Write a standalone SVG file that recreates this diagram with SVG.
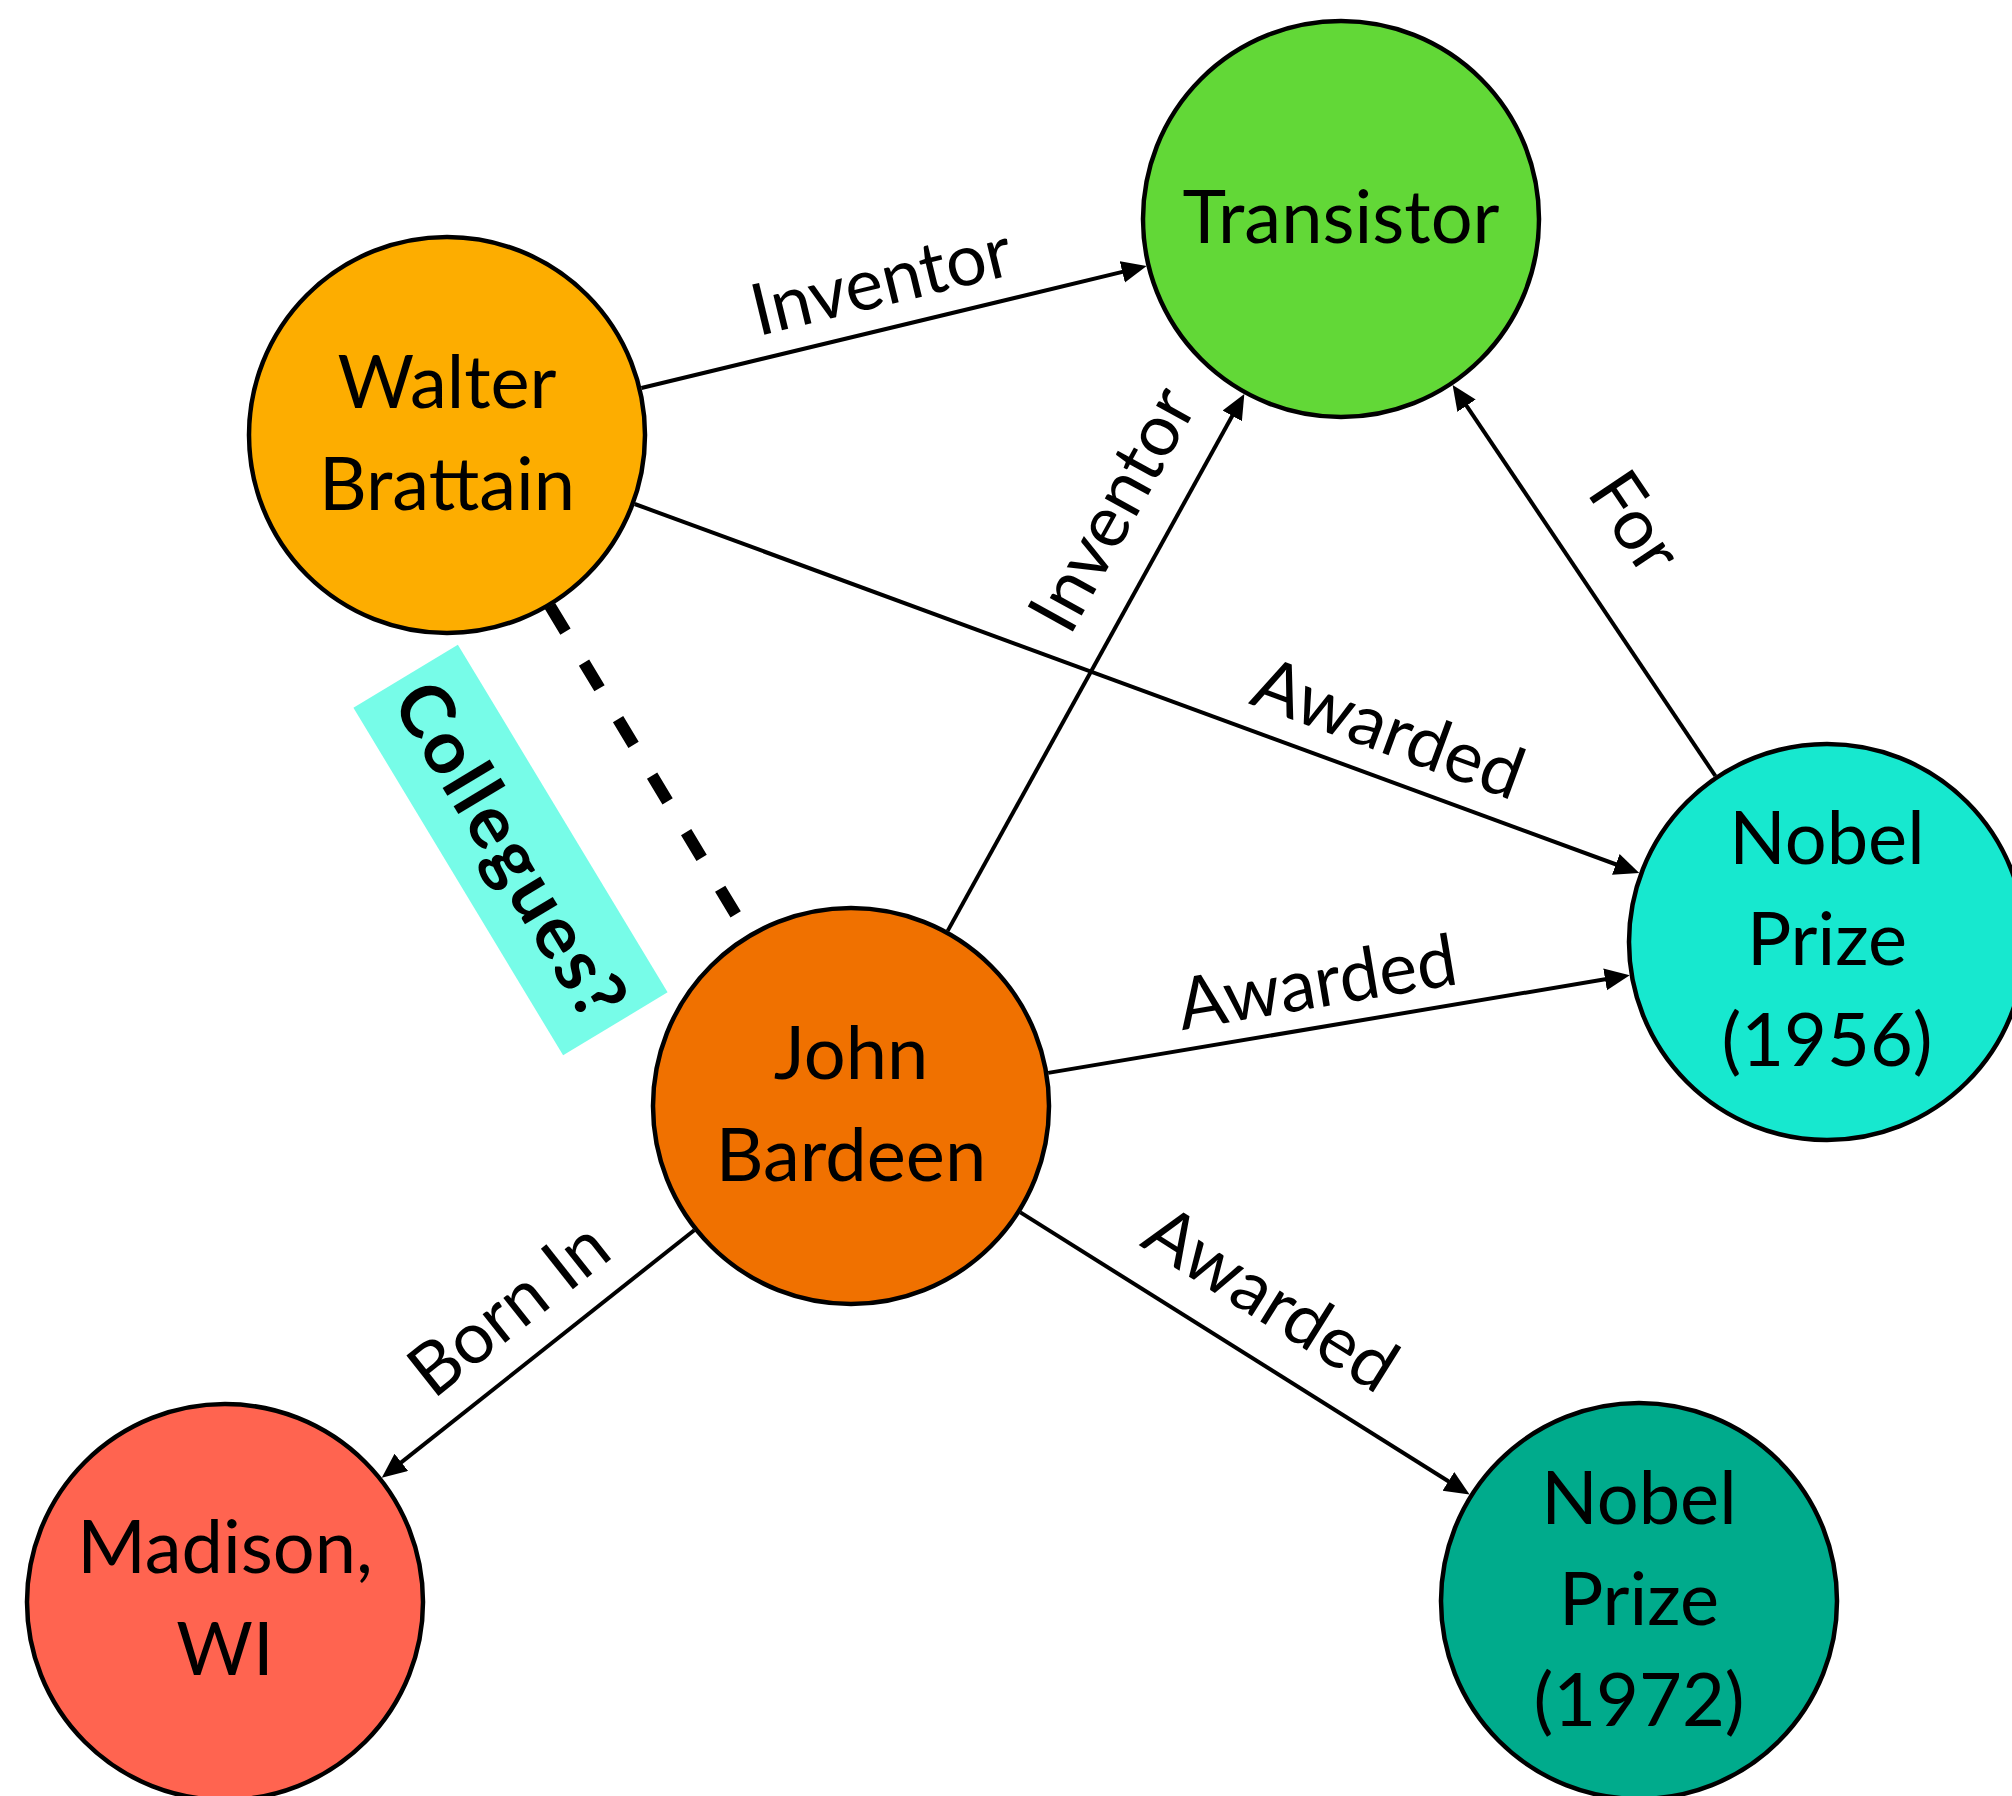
<svg xmlns="http://www.w3.org/2000/svg" width="2012" height="1796" viewBox="0 0 2012 1796">
<style>
.node{stroke:#000;stroke-width:4.5}
.nt{font-family:Lato,"Liberation Sans",sans-serif;font-size:74px;fill:#000;text-anchor:middle}
.el{font-family:Lato,"Liberation Sans",sans-serif;font-size:72px;fill:#000;text-anchor:middle}
.edge{stroke:#000;stroke-width:4;fill:none}
</style>
<defs>
<marker id="arr" markerUnits="userSpaceOnUse" markerWidth="26" markerHeight="24" refX="15" refY="11" orient="auto">
<path d="M0,0 L25,11 L0,22 Z" fill="#000"/>
</marker>
</defs>
<rect width="2012" height="1796" fill="#fff"/>
<g id="connectors">
<line class="edge" x1="641.4" y1="388" x2="1136.9" y2="268.4" marker-end="url(#arr)"/>
<line class="edge" x1="634.7" y1="504" x2="1629.9" y2="869.5" marker-end="url(#arr)"/>
<line class="edge" x1="947.7" y1="930.9" x2="1239.5" y2="402.8" marker-end="url(#arr)"/>
<line class="edge" x1="1715.4" y1="776" x2="1458.2" y2="393.3" marker-end="url(#arr)"/>
<line class="edge" x1="1048.2" y1="1072.9" x2="1619.9" y2="976.8" marker-end="url(#arr)"/>
<line class="edge" x1="1020.4" y1="1212.4" x2="1461.1" y2="1489.3" marker-end="url(#arr)"/>
<line class="edge" x1="694.2" y1="1230.2" x2="389.6" y2="1471.6" marker-end="url(#arr)"/>
<line x1="550" y1="606" x2="736" y2="915" stroke="#000" stroke-width="12" stroke-dasharray="30 36"/>
<text class="el" transform="translate(887,305) rotate(-13.6)">Inventor</text>
<text class="el" transform="translate(1380,752) rotate(20.2)">Awarded</text>
<text class="el" transform="translate(1134,521) rotate(-61.1)">Inventor</text>
<text class="el" transform="translate(1615,536) rotate(56.1)">For</text>
<text class="el" transform="translate(1321,1007) rotate(-9.5)">Awarded</text>
<text class="el" transform="translate(1258,1320) rotate(32.1)">Awarded</text>
<text class="el" transform="translate(524,1328) rotate(-38.4)">Born In</text>
<g id="colleagues-label" transform="translate(510.5,850) rotate(58.9)">
<rect x="-203" y="-61" width="406" height="122" fill="#77FCE8"/>
<text x="0" y="26" font-family="Lato,'Liberation Sans',sans-serif" font-size="74" font-weight="bold" text-anchor="middle" textLength="378" lengthAdjust="spacing">Collegues?</text>
</g>
</g>
<g id="transistor"><circle class="node" cx="1341" cy="219" r="198" fill="#62D837"/><text class="nt" x="1341" y="243">Transistor</text></g>
<g id="walter-brattain"><circle class="node" cx="447" cy="435" r="198" fill="#FDAD00"/><text class="nt" x="447" y="408">Walter</text><text class="nt" x="447" y="510">Brattain</text></g>
<g id="nobel-1956"><circle class="node" cx="1827" cy="942" r="198" fill="#17E8CF"/><text class="nt" x="1827" y="864">Nobel</text><text class="nt" x="1827" y="965">Prize</text><text class="nt" x="1827" y="1066">(1956)</text></g>
<g id="john-bardeen"><circle class="node" cx="851" cy="1106" r="198" fill="#F07100"/><text class="nt" x="851" y="1079">John</text><text class="nt" x="851" y="1181">Bardeen</text></g>
<g id="madison-wi"><circle class="node" cx="225" cy="1602" r="198" fill="#FF6450"/><text class="nt" x="225" y="1573">Madison,</text><text class="nt" x="225" y="1675">WI</text></g>
<g id="nobel-1972"><circle class="node" cx="1639" cy="1601" r="198" fill="#00AB8C"/><text class="nt" x="1639" y="1524">Nobel</text><text class="nt" x="1639" y="1625">Prize</text><text class="nt" x="1639" y="1726">(1972)</text></g>
</svg>
